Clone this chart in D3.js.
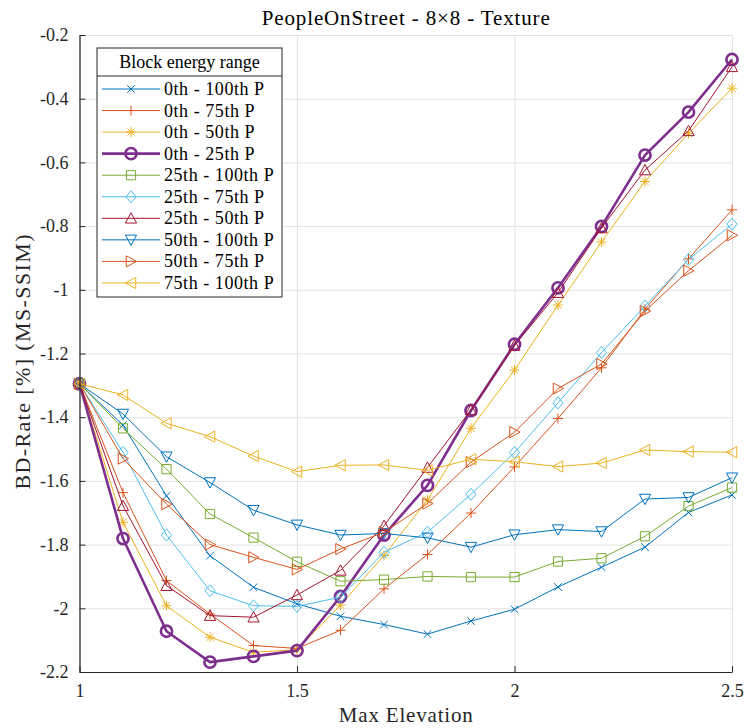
<!DOCTYPE html>
<html><head><meta charset="utf-8">
<script src="https://cdn.jsdelivr.net/npm/d3@7"></script>
<style>body{margin:0;background:#fff}svg{display:block}</style>
</head><body><svg id="c" width="744" height="728"></svg>
<script>
// ---------- data ----------
const xValues = [1.0,1.1,1.2,1.3,1.4,1.5,1.6,1.7,1.8,1.9,2.0,2.1,2.2,2.3,2.4,2.5];
const seriesNames = ["0th - 100th P","0th - 75th P","0th - 50th P","0th - 25th P","25th - 100th P",
                     "25th - 75th P","25th - 50th P","50th - 100th P","50th - 75th P","75th - 100th P"];
const p0_100  = [-1.295,-1.425,-1.647,-1.835,-1.934,-1.986,-2.025,-2.051,-2.081,-2.040,-2.003,-1.933,-1.871,-1.808,-1.699,-1.644];
const p0_75   = [-1.295,-1.637,-1.913,-2.018,-2.117,-2.126,-2.069,-1.939,-1.831,-1.701,-1.556,-1.404,-1.245,-1.061,-0.903,-0.749];
const p0_50   = [-1.295,-1.730,-1.992,-2.091,-2.138,-2.130,-1.990,-1.834,-1.660,-1.435,-1.252,-1.048,-0.850,-0.660,-0.509,-0.367];
const p0_25   = [-1.295,-1.781,-2.072,-2.169,-2.151,-2.133,-1.963,-1.770,-1.614,-1.379,-1.171,-0.994,-0.801,-0.577,-0.442,-0.277];
const p25_100 = [-1.295,-1.435,-1.563,-1.704,-1.778,-1.854,-1.915,-1.910,-1.900,-1.902,-1.902,-1.853,-1.843,-1.774,-1.679,-1.621];
const p25_75  = [-1.295,-1.510,-1.770,-1.945,-1.992,-1.994,-1.965,-1.824,-1.761,-1.642,-1.511,-1.355,-1.197,-1.051,-0.905,-0.794];
const p25_50  = [-1.295,-1.678,-1.929,-2.023,-2.028,-1.958,-1.881,-1.741,-1.558,-1.377,-1.175,-1.009,-0.806,-0.624,-0.501,-0.300];
const p50_100 = [-1.295,-1.390,-1.524,-1.605,-1.692,-1.738,-1.770,-1.765,-1.779,-1.808,-1.769,-1.753,-1.759,-1.657,-1.652,-1.590];
const p50_75  = [-1.295,-1.530,-1.673,-1.800,-1.840,-1.878,-1.814,-1.761,-1.671,-1.541,-1.447,-1.310,-1.233,-1.067,-0.940,-0.829];
const p75_100 = [-1.295,-1.330,-1.419,-1.461,-1.522,-1.571,-1.551,-1.550,-1.567,-1.532,-1.540,-1.555,-1.544,-1.503,-1.508,-1.510];
const seriesValues = [p0_100,p0_75,p0_50,p0_25,p25_100,p25_75,p25_50,p50_100,p50_75,p75_100];
const xTicks = [1,1.5,2,2.5];
const yTicks = [-2.2,-2,-1.8,-1.6,-1.4,-1.2,-1,-0.8,-0.6,-0.4,-0.2];
const titleText = "PeopleOnStreet - 8\u00d78 - Texture";
const xLabel = "Max Elevation";
const yLabel = "BD-Rate [%] (MS-SSIM)";
const legendTitle = "Block energy range";

// ---------- styles ----------
const colors = ["#0072BD","#D95319","#EDB120","#7E2F8E","#77AC30","#4DBEEE","#A2142F","#0072BD","#D95319","#EDB120"];
const markers = ["x","+","*","o","s","d","^","v",">","<"];
const widths = [1,1,1,2.6,1,1,1,1,1,1];
const FONT = "Liberation Serif";

const svg = d3.select("#c");
const L=79.5, R=732, T=35, B=672;
const x = d3.scaleLinear().domain([1,2.5]).range([L,R]);
const y = d3.scaleLinear().domain([-2.2,-0.2]).range([B,T]);

function markerPath(t){
  const p = d3.path();
  switch(t){
    case "x": {const s=3.8; p.moveTo(-s,-s);p.lineTo(s,s);p.moveTo(-s,s);p.lineTo(s,-s);break;}
    case "+": {const s=5; p.moveTo(-s,0);p.lineTo(s,0);p.moveTo(0,-s);p.lineTo(0,s);break;}
    case "*": {const s=5, d=3.6; p.moveTo(-s,0);p.lineTo(s,0);p.moveTo(0,-s);p.lineTo(0,s);
               p.moveTo(-d,-d);p.lineTo(d,d);p.moveTo(-d,d);p.lineTo(d,-d);break;}
    case "o": {p.moveTo(5.6,0);p.arc(0,0,5.6,0,2*Math.PI);break;}
    case "s": {const s=4.6; p.rect(-s,-s,2*s,2*s);break;}
    case "d": {const s=6; p.moveTo(0,-s);p.lineTo(s*0.85,0);p.lineTo(0,s);p.lineTo(-s*0.85,0);p.closePath();break;}
    case "^": {const s=5.6; p.moveTo(0,-s);p.lineTo(s,s*0.85);p.lineTo(-s,s*0.85);p.closePath();break;}
    case "v": {const s=5.6; p.moveTo(0,s);p.lineTo(s,-s*0.85);p.lineTo(-s,-s*0.85);p.closePath();break;}
    case ">": {const s=5.6; p.moveTo(s,0);p.lineTo(-s*0.85,s);p.lineTo(-s*0.85,-s);p.closePath();break;}
    case "<": {const s=5.6; p.moveTo(-s,0);p.lineTo(s*0.85,s);p.lineTo(s*0.85,-s);p.closePath();break;}
  }
  return p.toString();
}
const fmt = v => String(+v.toFixed(1));

// grid
svg.append("g").attr("transform",`translate(0,${B})`)
  .call(d3.axisBottom(x).tickValues(xTicks).tickSize(-(B-T)).tickFormat(""))
  .call(g=>{g.select(".domain").remove(); g.selectAll("line").attr("stroke","#e3e3e3");});
svg.append("g").attr("transform",`translate(${L},0)`)
  .call(d3.axisLeft(y).tickValues(yTicks).tickSize(-(R-L)).tickFormat(""))
  .call(g=>{g.select(".domain").remove(); g.selectAll("line").attr("stroke","#e3e3e3");});

// series
const line = d3.line().x((d,i)=>x(xValues[i])).y(d=>y(d));
seriesValues.forEach((vals,k)=>{
  const g = svg.append("g");
  g.append("path").attr("d",line(vals)).attr("fill","none")
    .attr("stroke",colors[k]).attr("stroke-width",widths[k]).attr("stroke-linejoin","round");
  g.selectAll("path.m").data(vals).enter().append("path").attr("class","m")
    .attr("transform",(d,i)=>`translate(${x(xValues[i])},${y(d)})`)
    .attr("d",markerPath(markers[k])).attr("fill","none")
    .attr("stroke",colors[k]).attr("stroke-width",widths[k]);
});

// axes
const ax = svg.append("g").attr("transform",`translate(0,${B})`)
  .call(d3.axisBottom(x).tickValues(xTicks).tickSizeInner(-6).tickSizeOuter(0).tickPadding(12).tickFormat(fmt));
const ay = svg.append("g").attr("transform",`translate(${L},0)`)
  .call(d3.axisLeft(y).tickValues(yTicks).tickSizeInner(-6).tickSizeOuter(0).tickPadding(11).tickFormat(fmt));
[ax,ay].forEach(a=>{
  a.attr("font-family",FONT).attr("font-size",18);
  a.select(".domain").attr("stroke","#262626").attr("stroke-width",1.2);
  a.selectAll(".tick line").attr("stroke","#262626");
  a.selectAll("text").attr("fill","#262626");
});

// titles
svg.append("text").attr("x",(L+R)/2).attr("y",25).attr("text-anchor","middle")
  .attr("font-family",FONT).attr("font-size",21).attr("fill","#000")
  .attr("textLength",288).attr("lengthAdjust","spacing").text(titleText);
svg.append("text").attr("x",(L+R)/2).attr("y",722).attr("text-anchor","middle")
  .attr("font-family",FONT).attr("font-size",21).attr("fill","#262626")
  .attr("textLength",134).attr("lengthAdjust","spacing").text(xLabel);
svg.append("text").attr("transform",`translate(30,362) rotate(-90)`).attr("text-anchor","middle")
  .attr("font-family",FONT).attr("font-size",22).attr("fill","#262626")
  .attr("textLength",255).attr("lengthAdjust","spacing").text(yLabel);

// legend
const lx=97, ly=48, lw=185, lh=249;
const lg = svg.append("g");
lg.append("rect").attr("x",lx).attr("y",ly).attr("width",lw).attr("height",lh)
  .attr("fill","#fff").attr("stroke","#262626").attr("stroke-width",1);
lg.append("line").attr("x1",lx).attr("x2",lx+lw).attr("y1",76).attr("y2",76).attr("stroke","#262626");
lg.append("text").attr("x",lx+lw/2).attr("y",68).attr("text-anchor","middle")
  .attr("font-family",FONT).attr("font-size",18).attr("fill","#000").text(legendTitle);
seriesNames.forEach((n,k)=>{
  const cy = 89 + k*21.55;
  lg.append("line").attr("x1",102).attr("x2",160).attr("y1",cy).attr("y2",cy)
    .attr("stroke",colors[k]).attr("stroke-width",widths[k]);
  lg.append("path").attr("transform",`translate(131,${cy})`).attr("d",markerPath(markers[k]))
    .attr("fill","none").attr("stroke",colors[k]).attr("stroke-width",widths[k]);
  lg.append("text").attr("x",164).attr("y",cy+6)
    .attr("font-family",FONT).attr("font-size",18).attr("letter-spacing",0.55)
    .attr("fill","#000").text(n);
});
</script></body></html>
